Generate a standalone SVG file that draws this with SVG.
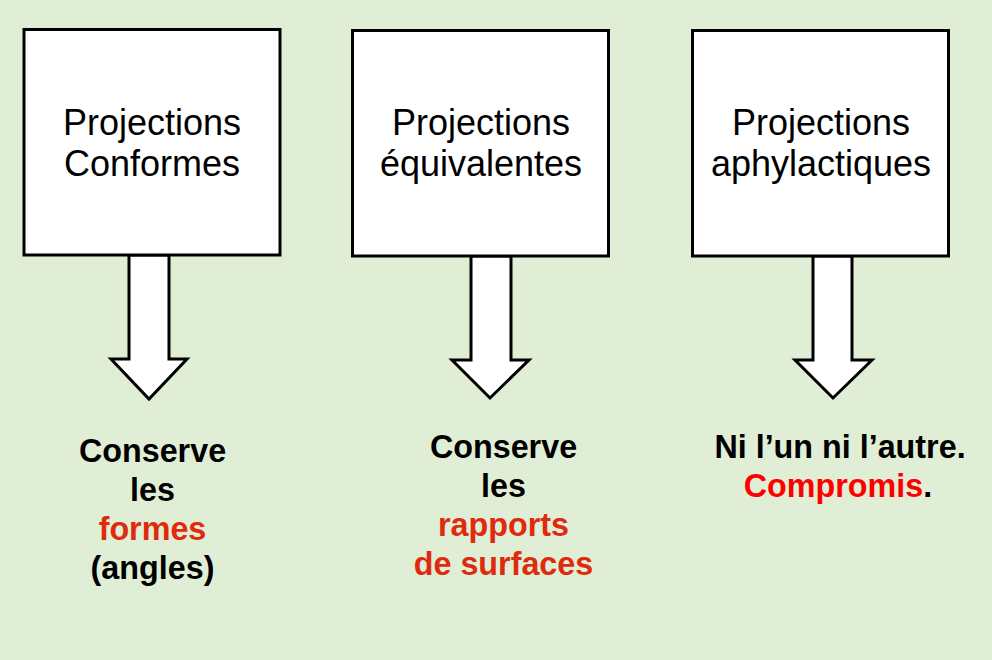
<svg xmlns="http://www.w3.org/2000/svg" width="992" height="660" viewBox="0 0 992 660">
<style>
.box{fill:#ffffff;stroke:#000000;stroke-width:3}
.arr{fill:#ffffff;stroke:#000000;stroke-width:3;stroke-linejoin:miter}
.t{font-family:"Liberation Sans",Arial,sans-serif;font-size:36px;fill:#000000;text-anchor:middle}
.b{font-family:"Liberation Sans",Arial,sans-serif;font-size:32.3px;font-weight:bold;fill:#000000;text-anchor:middle}
.r{fill:#DF2A0E}
.rr{fill:#FF0000}
</style>
<rect x="0" y="0" width="992" height="660" fill="#E0EED5"/>
<g id="connectors">
<path class="arr" d="M129,255 L169,255 L169,359 L187,359 L149,399 L111,359 L129,359 Z"/>
<path class="arr" d="M471,256 L511,256 L511,360 L529,360 L490,398 L452,360 L471,360 Z"/>
<path class="arr" d="M813,256 L852,256 L852,360 L872,360 L833,398 L795,360 L813,360 Z"/>
</g>
<g id="node-conformes">
<rect class="box" x="24" y="29.5" width="256" height="225.5"/>
<text class="t" x="152" y="135">Projections</text>
<text class="t" x="152" y="176">Conformes</text>
</g>
<g id="node-equivalentes">
<rect class="box" x="352.5" y="30.5" width="256" height="225.5"/>
<text class="t" x="481" y="135">Projections</text>
<text class="t" x="481" y="176">équivalentes</text>
</g>
<g id="node-aphylactiques">
<rect class="box" x="692.5" y="30.5" width="256" height="225.5"/>
<text class="t" x="821" y="135">Projections</text>
<text class="t" x="821" y="176">aphylactiques</text>
</g>
<g id="label-conformes">
<text class="b" x="152.5" y="462">Conserve</text>
<text class="b" x="152.5" y="501">les</text>
<text class="b r" x="152.5" y="540">formes</text>
<text class="b" x="152.5" y="579">(angles)</text>
</g>
<g id="label-equivalentes">
<text class="b" x="503.5" y="458">Conserve</text>
<text class="b" x="503.5" y="497">les</text>
<text class="b r" x="503.5" y="536">rapports</text>
<text class="b r" x="503.5" y="575">de surfaces</text>
</g>
<g id="label-aphylactiques">
<text class="b" x="840" y="458">Ni l’un ni l’autre.</text>
<text class="b" x="838" y="497"><tspan class="rr">Compromis</tspan>.</text>
</g>
</svg>
